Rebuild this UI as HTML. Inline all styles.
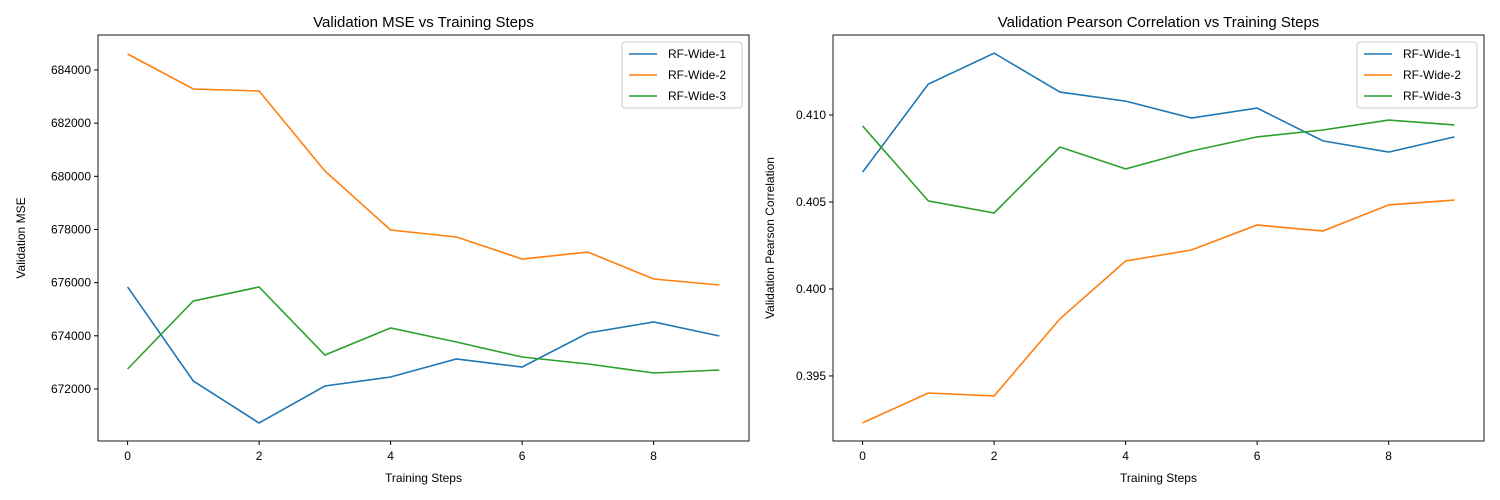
<!DOCTYPE html>
<html><head><meta charset="utf-8"><style>
body{margin:0;background:#fff;}
svg{display:block;font-family:"Liberation Sans","DejaVu Sans",sans-serif;}
</style></head>
<body>
<svg id="chart" width="1500" height="500"></svg>
<script>
const steps=[0,1,2,3,4,5,6,7,8,9];
const seriesNames=["RF-Wide-1","RF-Wide-2","RF-Wide-3"];
const colors=["#1f77b4","#ff7f0e","#2ca02c"];
const mse1=[675836,672300,670719,672112,672450,673128,672826,674105,674519,673993];
const mse2=[684602,683285,683210,680200,677980,677717,676890,677150,676137,675912];
const mse3=[672751,675309,675836,673278,674294,673767,673202,672940,672600,672713];
const pr1=[0.40672,0.41178,0.41356,0.41132,0.41080,0.40983,0.41040,0.40851,0.40787,0.40874];
const pr2=[0.39230,0.39402,0.39385,0.39828,0.40161,0.40224,0.40368,0.40333,0.40483,0.40511];
const pr3=[0.40937,0.40506,0.40437,0.40816,0.40690,0.40793,0.40874,0.40914,0.40971,0.40943];
const xTicks=[0,2,4,6,8];
const mseTicks=[672000,674000,676000,678000,680000,682000,684000];
const prTicks=[0.395,0.400,0.405,0.410];
const NS="http://www.w3.org/2000/svg";
const svg=document.getElementById('chart');
function mk(tag,attrs,parent,text){const e=document.createElementNS(NS,tag);for(const k in attrs)e.setAttribute(k,attrs[k]);if(text!==undefined)e.textContent=text;(parent||svg).appendChild(e);return e;}
function panel(p){
  const g=mk('g',{});
  
  
  const L=p.x0,R=p.x1,T=35,B=441;
  const xs=v=>L+(v-(-0.45))/(9.9)*(R-L);
  const ys=v=>B-(v-p.ymin)/(p.ymax-p.ymin)*(B-T);
  const t=mk('text',{x:(L+R)/2,y:27,'text-anchor':'middle','font-size':15,fill:'#000'},g,p.title);
  
  
  xTicks.forEach(v=>{const x=xs(v);mk('line',{x1:x,x2:x,y1:B,y2:B+4,stroke:'#000'},g);
    const tl=mk('text',{x:x,y:B+19,'text-anchor':'middle','font-size':12},g,String(v));
    
    });
  p.ticks.forEach(v=>{const y=ys(v);mk('line',{x1:L-4,x2:L,y1:y,y2:y,stroke:'#000'},g);
    const tl=mk('text',{x:L-7,y:y+4,'text-anchor':'end','font-size':12},g,p.fmt(v));
    
    });
  const xl=mk('text',{x:(L+R)/2,y:482,'text-anchor':'middle','font-size':12},g,'Training Steps');
  
  
  const yl=mk('text',{x:0,y:0,'text-anchor':'middle','font-size':12,transform:`translate(${p.ylx},${(T+B)/2}) rotate(-90)`},g,p.ylabel);
  
  
  p.data.forEach((d,i)=>{
    const pts=d.map((v,j)=>xs(steps[j]).toFixed(1)+','+ys(v).toFixed(1)).join(' ');
    const pl=mk('polyline',{points:pts,fill:'none',stroke:colors[i],'stroke-width':1.6},g);
    
    
  });
  mk('rect',{x:L,y:T,width:R-L,height:B-T,fill:'none',stroke:'#000','stroke-width':0.9},g);
  const lg=mk('g',{},g);
  
  
  mk('rect',{x:R-127,y:42,width:120,height:66,rx:3,fill:'#fff',stroke:'#ccc'},lg);
  seriesNames.forEach((n,i)=>{const y=54+i*21;
    mk('line',{x1:R-120,x2:R-92,y1:y,y2:y,stroke:colors[i],'stroke-width':1.6},lg);
    const e=mk('text',{x:R-81,y:y+4,'font-size':12},lg,n);
    
    });
}
panel({name:'mse-panel',x0:98,x1:749,ymin:670042,ymax:685317,ticks:mseTicks,fmt:v=>String(v),title:'Validation MSE vs Training Steps',ylabel:'Validation MSE',ylx:25,data:[mse1,mse2,mse3]});
panel({name:'pearson-panel',x0:833,x1:1484,ymin:0.39126,ymax:0.41460,ticks:prTicks,fmt:v=>v.toFixed(3),title:'Validation Pearson Correlation vs Training Steps',ylabel:'Validation Pearson Correlation',ylx:774,data:[pr1,pr2,pr3]});
</script>
</body></html>
